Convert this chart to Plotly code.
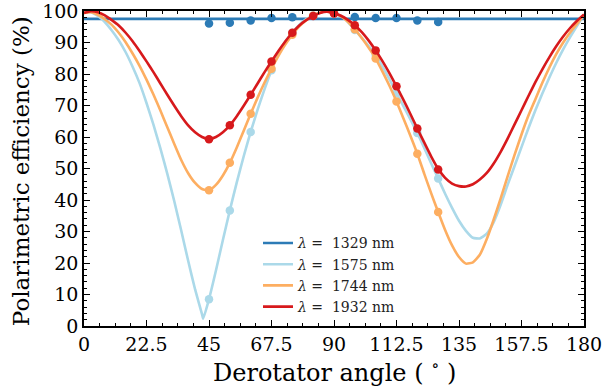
import plotly.graph_objects as go

# ---------------- data ----------------
labels = ["<i>λ</i> =  1329 nm", "<i>λ</i> =  1575 nm", "<i>λ</i> =  1744 nm", "<i>λ</i> =  1932 nm"]
colors = ["#2c7bb6", "#abd9e9", "#fdae61", "#d7191c"]

# measured points
meas_angle = [45, 52.5, 60, 67.5, 75, 82.5, 90, 97.5, 105, 112.5, 120, 127.5]
meas_1329 = [96.0, 96.3, 97.0, 97.8, 98.0, None, None, 98.1, 97.8, 97.8, 97.0, 96.5]
meas_1575 = [8.5, 36.7, 61.6, 81.2, 93.0, 98.6, 99.4, 94.0, 86.0, 74.0, 61.3, 46.8]
meas_1744 = [43.1, 51.8, 67.4, 81.7, 92.5, 98.5, 99.3, 94.2, 84.9, 71.3, 54.7, 36.2]
meas_1932 = [59.3, 63.7, 73.4, 84.0, 93.1, 98.4, 99.2, 95.5, 87.5, 76.1, 62.7, 49.7]

# model curves
fit_angle_1329 = [0, 180]
fit_1329 = [97.5, 97.5]

fit_angle = [0, 2.5, 5, 7.5, 10, 12.5, 15, 17.5, 20, 22.5, 25, 27.5, 30, 32.5, 35, 37.5,
             40, 42.5, 45, 47.5, 50, 52.5, 55, 57.5, 60, 62.5, 65, 67.5, 70, 72.5, 75, 77.5,
             80, 82.5, 85, 87.5, 90, 92.5, 95, 97.5, 100, 102.5, 105, 107.5, 110, 112.5, 115,
             117.5, 120, 122.5, 125, 127.5, 130, 132.5, 135, 137.5, 140, 142.5, 145, 147.5,
             150, 152.5, 155, 157.5, 160, 162.5, 165, 167.5, 170, 172.5, 175, 177.5, 180]

fit_angle_1575 = [0, 2.5, 5, 7.5, 10, 12.5, 15, 17.5, 20, 22.5, 25, 27.5, 30, 32.5, 35, 37.5,
                  40, 42.5, 42.9, 45, 47.5, 50, 52.5, 55, 57.5, 60, 62.5, 65, 67.5, 70, 72.5, 75, 77.5,
                  80, 82.5, 85, 87.5, 90, 92.5, 95, 97.5, 100, 102.5, 105, 107.5, 110, 112.5, 115,
                  117.5, 120, 122.5, 125, 127.5, 130, 132.5, 135, 137.5, 140, 142.5, 145, 147.5,
                  150, 152.5, 155, 157.5, 160, 162.5, 165, 167.5, 170, 172.5, 175, 177.5, 180]
fit_1575 = [99.5, 99.6, 98.4, 96.5, 93.8, 90.7, 86.9, 82.3, 77.1, 70.8, 63.9, 56.4, 48.3, 39.6, 30.3, 20.7,
            11.6, 3.7, 2.3, 8.5, 17.6, 27.3, 36.7, 45.6, 53.9, 61.6, 68.7, 75.2, 81.2, 86.5, 90.3, 93.2, 95.6,
            97.4, 98.6, 99.5, 99.9, 99.4, 98.5, 96.5, 94.0, 91.5, 88.9, 86.0, 82.3, 78.3, 74.0, 69.8,
            65.6, 61.3, 56.5, 51.6, 46.8, 42.0, 37.5, 33.4, 30.2, 28.0, 27.8, 29.3, 33.0,
            38.5, 44.8, 50.8, 56.8, 62.8, 68.5, 73.8, 78.8, 83.5, 87.8, 91.7, 95.3, 98.8]

fit_1744 = [99.4, 99.6, 98.8, 97.4, 95.6, 93.1, 90.1, 86.5, 82.6, 78.2, 73.5, 68.4, 63.1, 57.8, 52.7, 48.5,
            45.4, 43.5, 43.1, 44.8, 47.8, 51.8, 56.7, 62.0, 67.4, 72.5, 77.3, 81.7, 85.8, 89.4, 92.5, 95.1,
            97.1, 98.5, 99.5, 99.9, 99.3, 98.3, 96.6, 94.2, 91.4, 88.3, 84.9, 80.7, 76.2, 71.3, 65.9,
            60.4, 54.7, 48.3, 42.1, 36.2, 30.5, 25.6, 21.9, 19.8, 20.2, 22.6, 27.6, 33.8,
            40.5, 47.5, 54.3, 60.8, 66.8, 72.0, 77.2, 82.0, 86.3, 90.0, 93.2, 96.0, 98.8]

fit_1932 = [99.4, 99.9, 99.6, 98.6, 97.1, 95.4, 93.1, 90.4, 87.3, 84.0, 80.6, 77.0, 73.4, 69.9, 66.6, 63.7,
            61.5, 60.0, 59.3, 60.0, 61.5, 63.7, 66.6, 69.9, 73.4, 77.0, 80.6, 84.0, 87.3, 90.4, 93.1, 95.4,
            97.1, 98.4, 99.4, 99.8, 99.3, 98.5, 97.2, 95.5, 93.3, 90.6, 87.5, 84.0, 80.2, 76.1, 71.8,
            67.3, 62.7, 58.2, 53.8, 49.9, 47.0, 45.2, 44.4, 44.3, 45.0, 46.5, 48.6, 51.6,
            55.3, 59.5, 64.0, 68.5, 73.0, 77.4, 81.5, 85.3, 88.8, 91.9, 94.6, 96.9, 98.9]

x_ticks = [0, 22.5, 45, 67.5, 90, 112.5, 135, 157.5, 180]
x_ticklabels = ["0", "22.5", "45", "67.5", "90", "112.5", "135", "157.5", "180"]
y_ticks = [0, 10, 20, 30, 40, 50, 60, 70, 80, 90, 100]

x_title = "Derotator angle ( <sup>∘</sup> )"
y_title = "Polarimetric efficiency (%)"

# ---------------- figure ----------------
FONT = "DejaVu Serif"
fig = go.Figure()

curves = [
    (fit_angle_1329, fit_1329, meas_1329),
    (fit_angle_1575, fit_1575, meas_1575),
    (fit_angle, fit_1744, meas_1744),
    (fit_angle, fit_1932, meas_1932),
]

for (fx, fy, my), lab, col in zip(curves, labels, colors):
    fig.add_trace(go.Scatter(
        x=fx, y=fy, mode="lines", name=lab,
        line=dict(color=col, width=2.6, shape="spline", smoothing=0.5),
    ))
    fig.add_trace(go.Scatter(
        x=meas_angle, y=my, mode="markers", showlegend=False,
        marker=dict(color=col, size=8.5, line=dict(width=0)),
    ))

axis_common = dict(
    showline=True, linecolor="black", linewidth=1.6, mirror="allticks",
    ticks="inside", ticklen=6, tickwidth=1.3, tickcolor="black",
    showgrid=False, zeroline=False, automargin=False,
    ticklabeloverflow="allow",
    tickfont=dict(family=FONT, size=19, color="black"),
)

fig.update_xaxes(
    range=[0, 180], tickvals=x_ticks, ticktext=x_ticklabels,
    minor=dict(ticks="inside", ticklen=3, tickwidth=1, tickcolor="black", dtick=5.625, tick0=0),
    **axis_common,
)
fig.update_yaxes(
    range=[0, 100], tickvals=y_ticks,
    minor=dict(ticks="inside", ticklen=3, tickwidth=1, tickcolor="black", dtick=2, tick0=0),
    **axis_common,
)

fig.add_annotation(
    text=x_title, xref="paper", yref="paper", x=0.5, y=-0.142,
    xanchor="center", yanchor="middle", showarrow=False,
    font=dict(family=FONT, size=24, color="black"),
)
fig.add_annotation(
    text=y_title, xref="paper", yref="paper", x=-0.127, y=0.49,
    xanchor="center", yanchor="middle", showarrow=False, textangle=-90,
    font=dict(family=FONT, size=23, color="black"),
)

fig.update_layout(
    width=603, height=388,
    margin=dict(l=84, r=19, t=11, b=62),
    plot_bgcolor="white", paper_bgcolor="white",
    font=dict(family=FONT, color="black"),
    legend=dict(
        x=0.348, y=0.313, xanchor="left", yanchor="top",
        bgcolor="rgba(0,0,0,0)", borderwidth=0,
        font=dict(family=FONT, size=14, color="#222222"),
        tracegroupgap=0,
    ),
)

fig.write_html(
    "out.html",
    config={"displayModeBar": False},
    post_script="document.body.style.margin='0px'; document.body.style.overflow='hidden';",
)
